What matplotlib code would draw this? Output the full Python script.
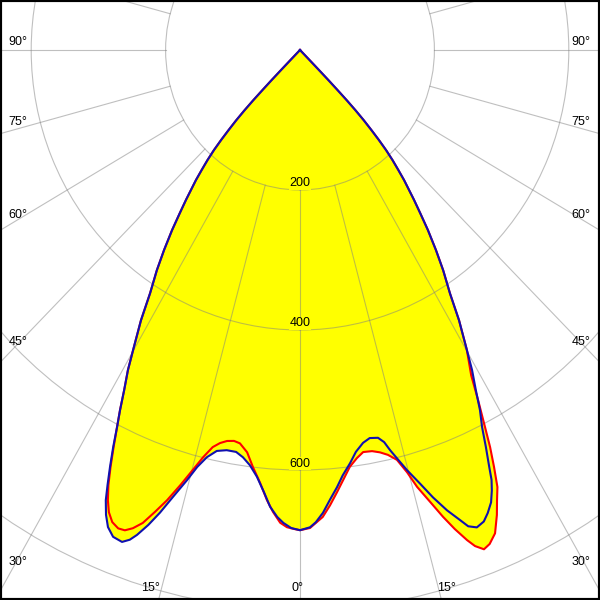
import numpy as np
import matplotlib
matplotlib.use("Agg")
import matplotlib.pyplot as plt
from matplotlib.patches import Rectangle

# ---- data (luminous intensity in cd vs. angle from nadir in degrees; negative = left) ----
blue_deg = [-90, -45, -44.7, -44.6, -44.5, -44.3, -44.1, -43.8, -43.4, -42.9, -42.4, -41.85,
            -41.2, -40.5, -39.8, -38.4, -37.5, -36.5, -35.3, -34.1, -32.7, -31.5, -30.1,
            -29.25, -28.3, -27.5, -26.8, -26.1, -25.4, -24.75, -24.2, -23.5, -22.75, -21.8,
            -20.65, -19.9, -19.3, -18.4, -17.5, -16.5, -15.3, -14.4, -13.4, -12.2, -10.8,
            -9.4, -8.3, -7.15, -6.0, -4.85, -3.9, -2.9, -2.1, -1.1, 0,
            1.25, 2.0, 2.96, 3.97, 5.04, 5.97, 7.19, 8.25, 9.49, 10.6, 11.83, 12.6, 13.19,
            13.9, 14.86, 16.1, 17.2, 18.4, 19.5, 20.2, 21.1, 22.1, 22.9, 23.75, 24.4, 24.9,
            25.3, 26.0, 26.7, 27.5, 28.3, 29.25, 30.1, 31.5, 32.7, 34.1, 35.3, 36.5, 37.5,
            38.4, 39.8, 40.5, 41.2, 41.85, 42.4, 42.9, 43.4, 43.8, 44.1, 44.3, 44.5, 44.6,
            44.7, 45, 90]
blue_cd = [0, 0, 20, 40, 60, 80, 100, 119, 138, 156, 174, 192,
           209, 225, 242, 273, 294, 320, 350, 380, 413, 453, 495,
           524, 552, 580, 604, 632, 659, 684, 705, 724, 739, 749,
           751, 744, 734, 715, 693, 666, 637, 615, 598, 586, 582,
           582, 588, 598, 613, 634, 654, 668, 676, 683, 686,
           682, 675, 662, 644, 627, 611, 595, 580, 569, 564, 566, 574, 587,
           601, 621, 645, 669, 693, 712, 725, 731, 727, 718, 706, 691, 677,
           659, 631, 603, 580, 552, 524, 495, 453, 413, 380, 350, 320, 294,
           273, 242, 225, 209, 192, 174, 156, 138, 119, 100, 80, 60, 40,
           20, 0, 0]

red_deg = [-90, -45, -44.7, -44.6, -44.5, -44.3, -44.1, -43.8, -43.4, -42.9, -42.4, -41.85,
           -41.2, -40.5, -39.8, -38.4, -37.5, -36.5, -35.3, -34.1, -32.7, -31.5, -30.1,
           -29.25, -28.3, -27.5, -26.8, -26.07, -25.33, -24.64, -23.96, -23.3, -22.5, -21.6,
           -20.8, -20.0, -19.1, -18.1, -17.1, -16.0, -14.9, -13.9, -12.9, -11.97, -11.0,
           -9.97, -9.04, -7.8, -6.7, -5.5, -4.37, -3.49, -2.5, -1.63, -0.87, 0,
           1.25, 2.9, 3.93, 4.99, 5.95, 7.1, 8.28, 9.3, 10.6, 11.7, 12.75, 13.84, 14.8,
           15.6, 16.7, 17.7, 18.6, 19.55, 20.18, 21.0, 21.8, 22.8, 23.8, 24.5, 25.2, 25.86,
           26.5, 27.07, 27.92, 28.73, 30.1, 31.5, 32.7, 34.1, 35.3, 36.5, 37.5,
           38.4, 39.8, 40.5, 41.2, 41.85, 42.4, 42.9, 43.4, 43.8, 44.1, 44.3, 44.5, 44.6,
           44.7, 45, 90]
red_cd = [0, 0, 20, 40, 60, 80, 100, 119, 138, 156, 174, 192,
          209, 225, 242, 273, 294, 320, 350, 380, 413, 453, 495,
          524, 552, 580, 604, 631, 659, 684, 704, 719, 730, 735,
          734, 727, 715, 694, 673, 647, 621, 599, 582, 574, 569,
          567, 569, 580, 600, 621, 645, 661, 676, 682, 684, 686,
          683, 668, 652, 634, 618, 600, 589, 582, 583, 587, 593, 603, 624,
          648, 674, 700, 722, 743, 755, 764, 760, 749, 726, 707, 690, 662,
          634, 605, 566, 530, 495, 453, 413, 380, 350, 320, 294,
          273, 242, 225, 209, 192, 174, 156, 138, 119, 100, 80, 60, 40,
          20, 0, 0]

ring_values = [200, 400, 600, 800]
ring_labels = ["200", "400", "600"]
spoke_angles = list(range(-180, 181, 15))
side_label_angles = [90, 75, 60, 45, 30]
bottom_label_angles = [-15, 0, 15]

# ---- layout ----
W = H = 600
DPI = 100
PX_X = 0.672   # px per cd horizontally
PX_Y = 0.700   # px per cd vertically
CX, CY = 300, 50   # pole position in px from top-left
RMAX = 1000

fig = plt.figure(figsize=(W / DPI, H / DPI), dpi=DPI)
fig.patch.set_facecolor("white")
ax_w = 2 * RMAX * PX_X
ax_h = 2 * RMAX * PX_Y
rect = [(CX - ax_w / 2) / W, (H - CY - ax_h / 2) / H, ax_w / W, ax_h / H]
ax = fig.add_axes(rect, projection="polar")
ax.set_aspect("auto")
ax.set_theta_zero_location("S")
ax.set_theta_direction(1)
ax.set_ylim(0, RMAX)
ax.spines["polar"].set_visible(False)
ax.set_xticks([])
ax.set_yticks(ring_values)
ax.set_yticklabels([])
ax.tick_params(length=0)
ax.set_axisbelow(False)
ax.yaxis.grid(True, color="#808080", alpha=0.5, linewidth=0.8, zorder=2.5)
ax.xaxis.grid(False)

tb = np.radians(blue_deg)
tr = np.radians(red_deg)
ax.fill(tb, blue_cd, color="#ffff00", lw=0, zorder=1)
ax.fill(tr, red_cd, color="#ffff00", lw=0, zorder=1)

for a in spoke_angles:
    ax.plot([np.radians(a)] * 2, [ring_values[0], RMAX], color="#808080",
            alpha=0.5, lw=0.8, zorder=2.5)

ax.plot(tr, red_cd, color="#ff0000", lw=1.5, zorder=3, solid_joinstyle="round")
ax.plot(tb, blue_cd, color="#1010b0", lw=1.5, zorder=3.1, solid_joinstyle="round")

pt = 72.0 / DPI
font = dict(family=["Liberation Sans", "DejaVu Sans"], fontsize=9, color="black")

for v, lab in zip(ring_values, ring_labels):
    ax.annotate(lab, xy=(0, v), xytext=(0, 6.5 * pt), textcoords="offset points",
                ha="center", va="center", zorder=5,
                bbox=dict(fc="#ffff00", ec="none", pad=0.3), **font)

# side labels: anchored where each spoke crosses px x = 12 (left) / 588 (right)
xd_edge = (CX - 12) / PX_X
for a in side_label_angles:
    r = xd_edge / np.sin(np.radians(a))
    ax.annotate(f"{a}°", xy=(np.radians(-a), r), xytext=(6 * pt, 8 * pt),
                textcoords="offset points", ha="center", va="center",
                annotation_clip=False, zorder=5, **font)
    ax.annotate(f"{a}°", xy=(np.radians(a), r), xytext=(-7 * pt, 8 * pt),
                textcoords="offset points", ha="center", va="center",
                annotation_clip=False, zorder=5, **font)

# bottom labels: anchored where spokes cross px y = 596
yd_edge = (596 - CY) / PX_Y
bottom_dx = {-15: -8.6, 0: -2, 15: 5.6}
for a in bottom_label_angles:
    r = yd_edge / np.cos(np.radians(a))
    ax.annotate(f"{abs(a)}°", xy=(np.radians(a), r), xytext=(bottom_dx[a] * pt, 8 * pt),
                textcoords="offset points", ha="center", va="center",
                annotation_clip=False, zorder=5, **font)

fig.add_artist(Rectangle((0, 0), 1, 1, transform=fig.transFigure, fill=False,
                         ec="black", lw=3, clip_on=False))

fig.savefig("out.png", dpi=DPI)
